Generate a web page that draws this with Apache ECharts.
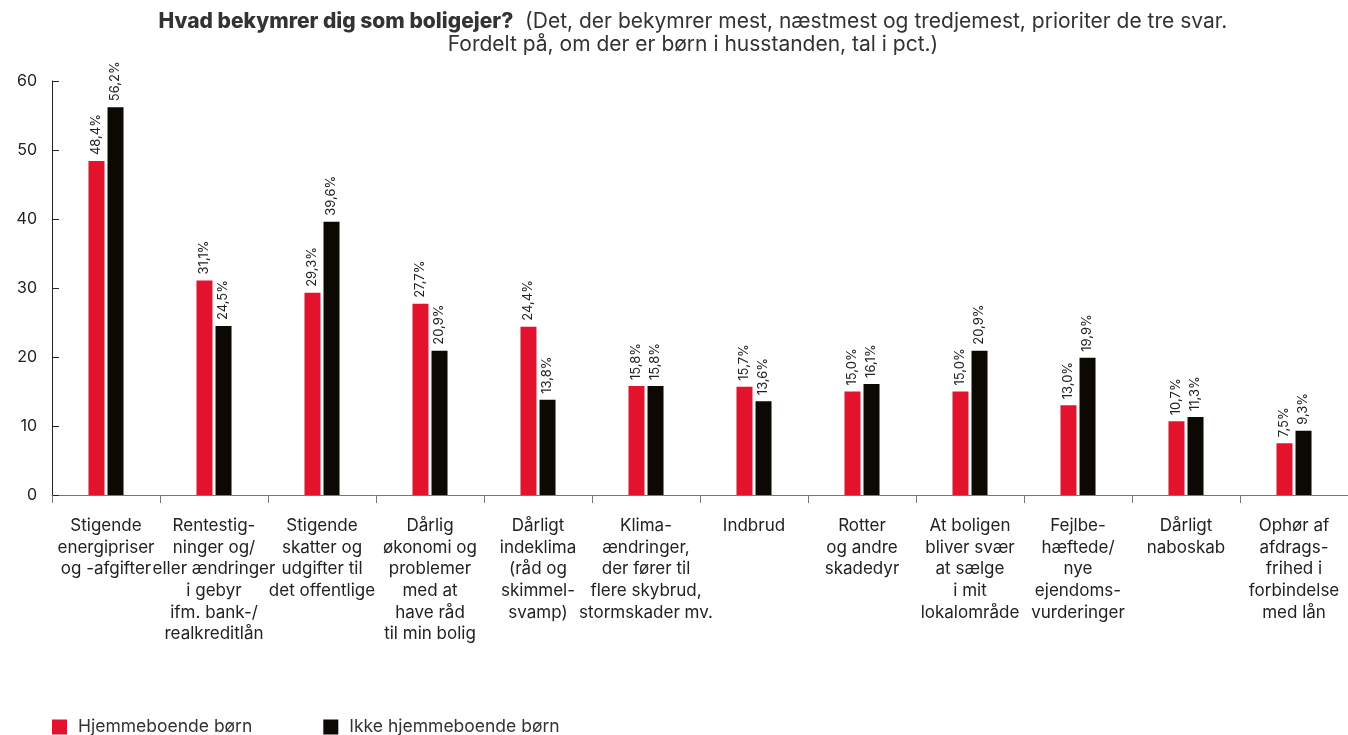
<!DOCTYPE html>
<html>
<head>
<meta charset="utf-8">
<script src="https://cdn.jsdelivr.net/npm/echarts@6/dist/echarts.min.js"></script>
<style>html,body{margin:0;padding:0;background:#fff}#c{width:1348px;height:735px}</style>
</head>
<body>
<div id="c"></div>
<script>
const categories = [
  "Stigende\nenergipriser\nog -afgifter",
  "Rentestig-\nninger og/\neller ændringer\ni gebyr\nifm. bank-/\nrealkreditlån",
  "Stigende\nskatter og\nudgifter til\ndet offentlige",
  "Dårlig\nøkonomi og\nproblemer\nmed at\nhave råd\ntil min bolig",
  "Dårligt\nindeklima\n(råd og\nskimmel-\nsvamp)",
  "Klima-\nændringer,\nder fører til\nflere skybrud,\nstormskader mv.",
  "Indbrud",
  "Rotter\nog andre\nskadedyr",
  "At boligen\nbliver svær\nat sælge\ni mit\nlokalområde",
  "Fejlbe-\nhæftede/\nnye\nejendoms-\nvurderinger",
  "Dårligt\nnaboskab",
  "Ophør af\nafdrags-\nfrihed i\nforbindelse\nmed lån"
];
const hjemmeboende = [48.4, 31.1, 29.3, 27.7, 24.4, 15.8, 15.7, 15.0, 15.0, 13.0, 10.7, 7.5];
const ikkeHjemmeboende = [56.2, 24.5, 39.6, 20.9, 13.8, 15.8, 13.6, 16.1, 20.9, 19.9, 11.3, 9.3];
const seriesNames = ["Hjemmeboende børn", "Ikke hjemmeboende børn"];
const yTicks = [0, 10, 20, 30, 40, 50, 60];

const FONT = "Inter, 'Noto Sans', sans-serif";
const chart = echarts.init(document.getElementById('c'), null, {renderer: 'canvas'});
const fmt = p => p.value.toFixed(1).replace('.', ',') + '%';
const labelCfg = {
  show: true, position: 'top', rotate: 90, align: 'left', verticalAlign: 'middle',
  distance: 6, fontSize: 13, color: '#222', fontFamily: FONT, formatter: fmt
};
chart.setOption({
  animation: false,
  title: {
    left: 693, top: 10, padding: 0, textAlign: 'center',
    text: "{b|Hvad bekymrer dig som boligejer?}  (Det, der bekymrer mest, næstmest og tredjemest, prioriter de tre svar.\nFordelt på, om der er børn i husstanden, tal i pct.)",
    textStyle: {
      fontFamily: FONT, fontSize: 21, fontWeight: 'normal', color: '#333', lineHeight: 23,
      rich: { b: { fontFamily: FONT, fontSize: 21, fontWeight: 800, color: '#333', lineHeight: 23 } }
    }
  },
  legend: {
    left: 52, top: 718, padding: 0, itemWidth: 15, itemHeight: 15, itemGap: 71,
    icon: 'rect',
    textStyle: { fontFamily: FONT, fontSize: 17.5, color: '#333', padding: [0, 0, 0, 6] },
    data: seriesNames
  },
  grid: { left: 52, top: 81, width: 1300, height: 414, containLabel: false },
  xAxis: {
    type: 'category', data: categories,
    axisLine: { lineStyle: { color: '#777', width: 1 } },
    axisTick: { show: true, length: 8, lineStyle: { color: '#777' } },
    axisLabel: { interval: 0, fontFamily: FONT, fontSize: 17, color: '#222', lineHeight: 21.7, margin: 20 }
  },
  yAxis: {
    type: 'value', min: 0, max: 60, interval: 10,
    axisLine: { show: true, lineStyle: { color: '#222', width: 1 } },
    axisTick: { show: true, inside: true, length: 7, lineStyle: { color: '#222' } },
    splitLine: { show: false },
    axisLabel: { fontFamily: FONT, fontSize: 16, color: '#222', margin: 15,
      formatter: v => yTicks.includes(v) ? String(v) : '' }
  },
  series: [
    { name: seriesNames[0], type: 'bar', data: hjemmeboende, barWidth: 16, barGap: '19%',
      itemStyle: { color: '#e3132d' }, label: labelCfg },
    { name: seriesNames[1], type: 'bar', data: ikkeHjemmeboende, barWidth: 16,
      itemStyle: { color: '#0c0804' }, label: labelCfg }
  ]
});
</script>
</body>
</html>
